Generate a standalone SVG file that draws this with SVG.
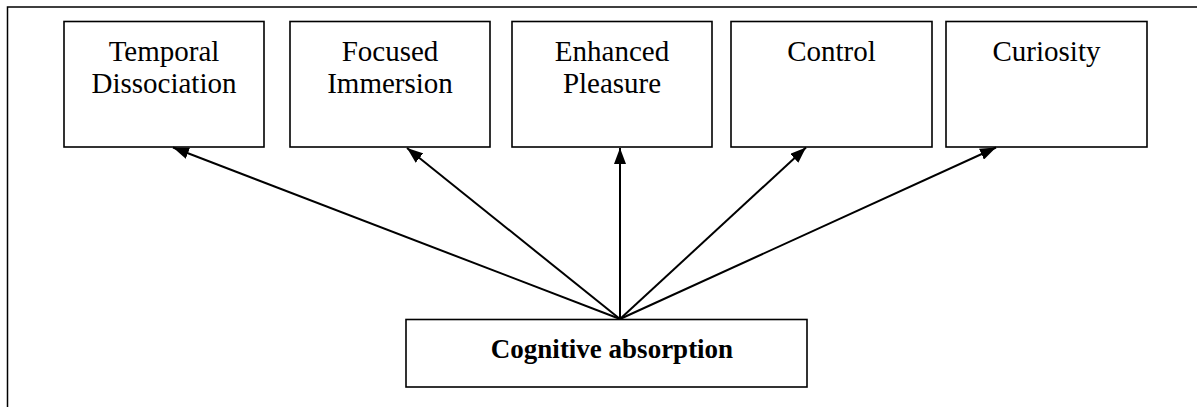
<svg xmlns="http://www.w3.org/2000/svg" width="1197" height="407" viewBox="0 0 1197 407">
<style>
.box{fill:#fff;stroke:#000;stroke-width:1.6}
.t{font-family:"Liberation Serif","Times New Roman",serif;font-size:29px;fill:#000;text-anchor:middle}
.b{font-weight:bold;font-size:27px}
.c{stroke:#000;stroke-width:2;fill:none;marker-end:url(#ah)}
</style>
<defs>
<marker id="ah" viewBox="0 0 16 12" refX="16" refY="6" markerWidth="16" markerHeight="12" markerUnits="userSpaceOnUse" orient="auto">
<path d="M0,0 L16,6 L0,12 Z" fill="#000"/>
</marker>
</defs>
<g id="frame" stroke="#000" stroke-width="1.5" fill="none">
<path d="M7.5,407 V7 H1197"/>
</g>
<g id="n1"><rect class="box" x="64" y="21.5" width="200" height="125.5"/><text class="t" x="164" y="61">Temporal</text><text class="t" x="164" y="92.5">Dissociation</text></g>
<g id="n2"><rect class="box" x="290" y="21.5" width="200" height="125.5"/><text class="t" x="390" y="61">Focused</text><text class="t" x="390" y="92.5">Immersion</text></g>
<g id="n3"><rect class="box" x="512" y="21.5" width="200" height="125.5"/><text class="t" x="612" y="61">Enhanced</text><text class="t" x="612" y="92.5">Pleasure</text></g>
<g id="n4"><rect class="box" x="731" y="21.5" width="201" height="125.5"/><text class="t" x="831.5" y="61">Control</text></g>
<g id="n5"><rect class="box" x="946" y="21.5" width="201" height="125.5"/><text class="t" x="1046.5" y="61">Curiosity</text></g>
<g id="n6"><rect class="box" x="406" y="319.5" width="401" height="67.5"/><text class="t b" x="612" y="358">Cognitive absorption</text></g>
<g id="connectors">
<path class="c" d="M620,319 L173,147.5"/>
<path class="c" d="M620,319 L407,148"/>
<path class="c" d="M620,319 L620,148"/>
<path class="c" d="M620,319 L806,147.5"/>
<path class="c" d="M620,319 L996,147.5"/>
</g>
</svg>
